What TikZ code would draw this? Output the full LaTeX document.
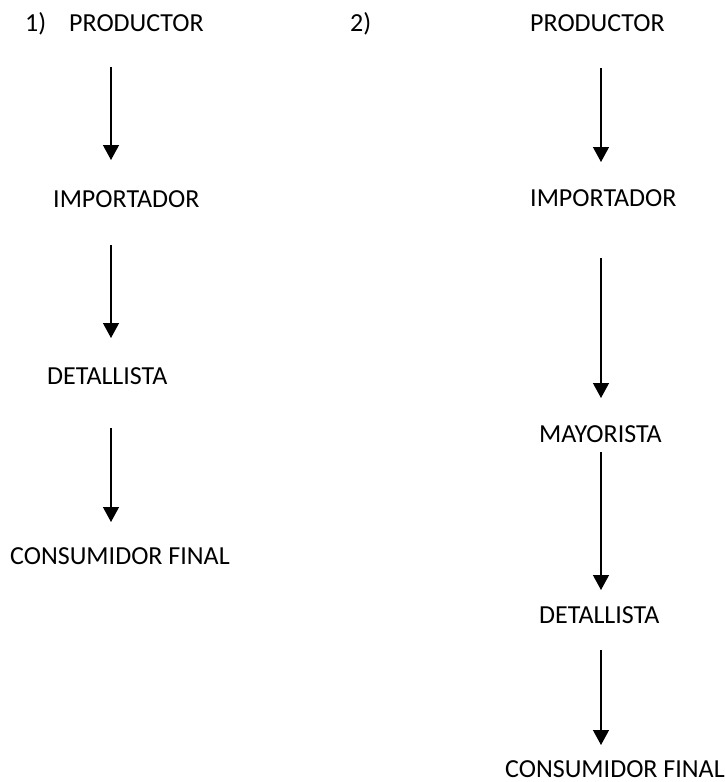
\documentclass[tikz,border=0pt]{standalone}
\usepackage{fontspec}
\setmainfont{Carlito}
\usetikzlibrary{arrows.meta}

\begin{document}
\begin{tikzpicture}[x=1pt,y=-1pt,>={Triangle[length=15pt,width=16pt]}]
 \tikzstyle{etiqueta} = [anchor=base west,inner sep=0,font=\fontsize{26}{31}\selectfont]
 \tikzstyle{flecha} = [->,line width=1.3pt]
 \useasboundingbox (0,0) rectangle (725,782);
 \coordinate (eje1) at (111,0);
 \coordinate (eje2) at (601,0);

 % canal 1
 \node[etiqueta] (num1) at (25,31) {1)};
 \node[etiqueta] (prod1) at (69,31) {PRODUCTOR};
 \node[etiqueta] (imp1) at (53,207) {IMPORTADOR};
 \node[etiqueta] (det1) at (47,384) {DETALLISTA};
 \node[etiqueta] (cons1) at (10,564) {CONSUMIDOR FINAL};
 \draw[flecha,shorten <=36pt,shorten >=47pt] (prod1.base -| eje1) -- (imp1.base -| eje1);
 \draw[flecha,shorten <=38pt,shorten >=46pt] (imp1.base -| eje1) -- (det1.base -| eje1);
 \draw[flecha,shorten <=44pt,shorten >=42pt] (det1.base -| eje1) -- (cons1.base -| eje1);

 % canal 2
 \node[etiqueta] (num2) at (350,31) {2)};
 \node[etiqueta] (prod2) at (530,31) {PRODUCTOR};
 \node[etiqueta] (imp2) at (530,206) {IMPORTADOR};
 \node[etiqueta] (may2) at (539,442) {MAYORISTA};
 \node[etiqueta] (det2) at (539,623) {DETALLISTA};
 \node[etiqueta] (cons2) at (505,777) {CONSUMIDOR FINAL};
 \draw[flecha,shorten <=37pt,shorten >=44pt] (prod2.base -| eje2) -- (imp2.base -| eje2);
 \draw[flecha,shorten <=52pt,shorten >=44pt] (imp2.base -| eje2) -- (may2.base -| eje2);
 \draw[flecha,shorten <=10pt,shorten >=33pt] (may2.base -| eje2) -- (det2.base -| eje2);
 \draw[flecha,shorten <=27pt,shorten >=32pt] (det2.base -| eje2) -- (cons2.base -| eje2);
\end{tikzpicture}
\end{document}
